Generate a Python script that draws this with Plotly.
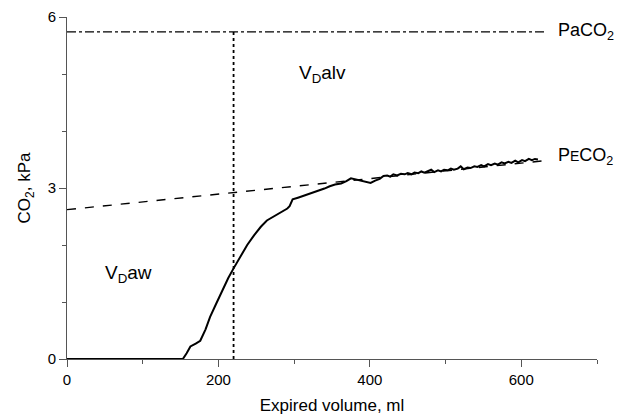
import plotly.graph_objects as go

# Capnogram data (expired volume, ml vs CO2, kPa)
volume = [0, 150, 153, 158, 163, 170, 176, 183, 189, 197, 205, 213, 220, 229, 238, 247, 256, 264,
          273, 282, 291, 294, 298, 305, 312, 318, 326, 333, 340, 347, 354, 362, 369, 375, 381, 388,
          394, 401, 407, 413, 418, 423, 427, 431, 436, 441, 446, 450, 455, 459, 464, 468, 472, 477,
          481, 485, 490, 494, 498, 503, 507, 511, 516, 520, 524, 529, 533, 538, 542, 547, 551, 556,
          560, 565, 569, 574, 578, 583, 587, 592, 596, 601, 605, 610, 614, 618, 622]
co2 = [0, 0, 0.0, 0.1, 0.22, 0.27, 0.32, 0.52, 0.74, 0.97, 1.21, 1.42, 1.59, 1.80, 2.0, 2.17, 2.32, 2.43,
       2.50, 2.58, 2.64, 2.68, 2.80, 2.83, 2.86, 2.89, 2.93, 2.96, 2.99, 3.03, 3.06, 3.08, 3.12, 3.17, 3.15, 3.14,
       3.11, 3.09, 3.13, 3.16, 3.21, 3.22, 3.20, 3.24, 3.22, 3.25, 3.24, 3.26, 3.24, 3.27, 3.26, 3.29, 3.27, 3.30,
       3.32, 3.28, 3.31, 3.29, 3.32, 3.31, 3.34, 3.32, 3.34, 3.38, 3.33, 3.36, 3.35, 3.38, 3.37, 3.40, 3.38, 3.42,
       3.40, 3.43, 3.41, 3.45, 3.43, 3.46, 3.44, 3.48, 3.45, 3.49, 3.47, 3.51, 3.49, 3.51, 3.50]

paco2_x = [0, 633]
paco2_y = [5.74, 5.74]
peco2_x = [0, 632]
peco2_y = [2.62, 3.48]
vd_x = [220, 220]
vd_y = [0, 5.74]

x_ticks = [0, 200, 400, 600]
y_ticks = [0, 3, 6]

FONT = "Liberation Sans, Arial, sans-serif"

fig = go.Figure()
fig.add_trace(go.Scatter(x=paco2_x, y=paco2_y, mode="lines",
                         line=dict(color="black", width=1.3, dash="dashdot"), hoverinfo="skip"))
fig.add_trace(go.Scatter(x=peco2_x, y=peco2_y, mode="lines",
                         line=dict(color="black", width=1.4, dash="dash"), hoverinfo="skip"))
fig.add_trace(go.Scatter(x=vd_x, y=vd_y, mode="lines",
                         line=dict(color="black", width=1.8, dash="dot"), hoverinfo="skip"))
fig.add_trace(go.Scatter(x=volume, y=co2, mode="lines",
                         line=dict(color="black", width=2), cliponaxis=False))

fig.add_annotation(x=646, y=5.74, xref="x", yref="y", xanchor="left", yanchor="middle",
                   text="PaCO<sub>2</sub>", showarrow=False, font=dict(size=18, family=FONT, color="black"))
fig.add_annotation(x=646, y=3.55, xref="x", yref="y", xanchor="left", yanchor="middle",
                   text="P<span style='font-size:14px'>E</span>CO<sub>2</sub>", showarrow=False,
                   font=dict(size=18, family=FONT, color="black"))
fig.add_annotation(x=304, y=5.0, xref="x", yref="y", xanchor="left", yanchor="middle",
                   text="V<sub>D</sub>alv", showarrow=False, font=dict(size=19, family=FONT, color="black"))
fig.add_annotation(x=47, y=1.5, xref="x", yref="y", xanchor="left", yanchor="middle",
                   text="V<sub>D</sub>aw", showarrow=False, font=dict(size=19, family=FONT, color="black"))

fig.update_layout(
    width=635, height=417,
    margin=dict(l=67, r=38, t=17, b=58),
    paper_bgcolor="white", plot_bgcolor="white",
    showlegend=False,
    font=dict(family=FONT, size=15, color="black"),
    xaxis=dict(range=[0, 700], tickvals=x_ticks, ticks="outside", ticklen=7, tickcolor="#555",
               showgrid=False, zeroline=False, showline=True, linecolor="#555", linewidth=1,
               minor=dict(tickvals=[100, 300, 500, 700], ticks="outside", ticklen=4, tickcolor="#555"),
               title=dict(text="Expired volume, ml", font=dict(size=17), standoff=12),
               tickfont=dict(size=15), automargin=False),
    yaxis=dict(range=[0, 6], tickvals=y_ticks, ticks="outside", ticklen=7, tickcolor="#555",
               showgrid=False, zeroline=False, showline=True, linecolor="#555", linewidth=1,
               minor=dict(tickvals=[1, 2, 4, 5], ticks="outside", ticklen=4, tickcolor="#555"),
               title=dict(text="CO<sub>2</sub>, kPa", font=dict(size=17), standoff=12),
               tickfont=dict(size=15), automargin=False),
)

fig.write_html("out.html")
